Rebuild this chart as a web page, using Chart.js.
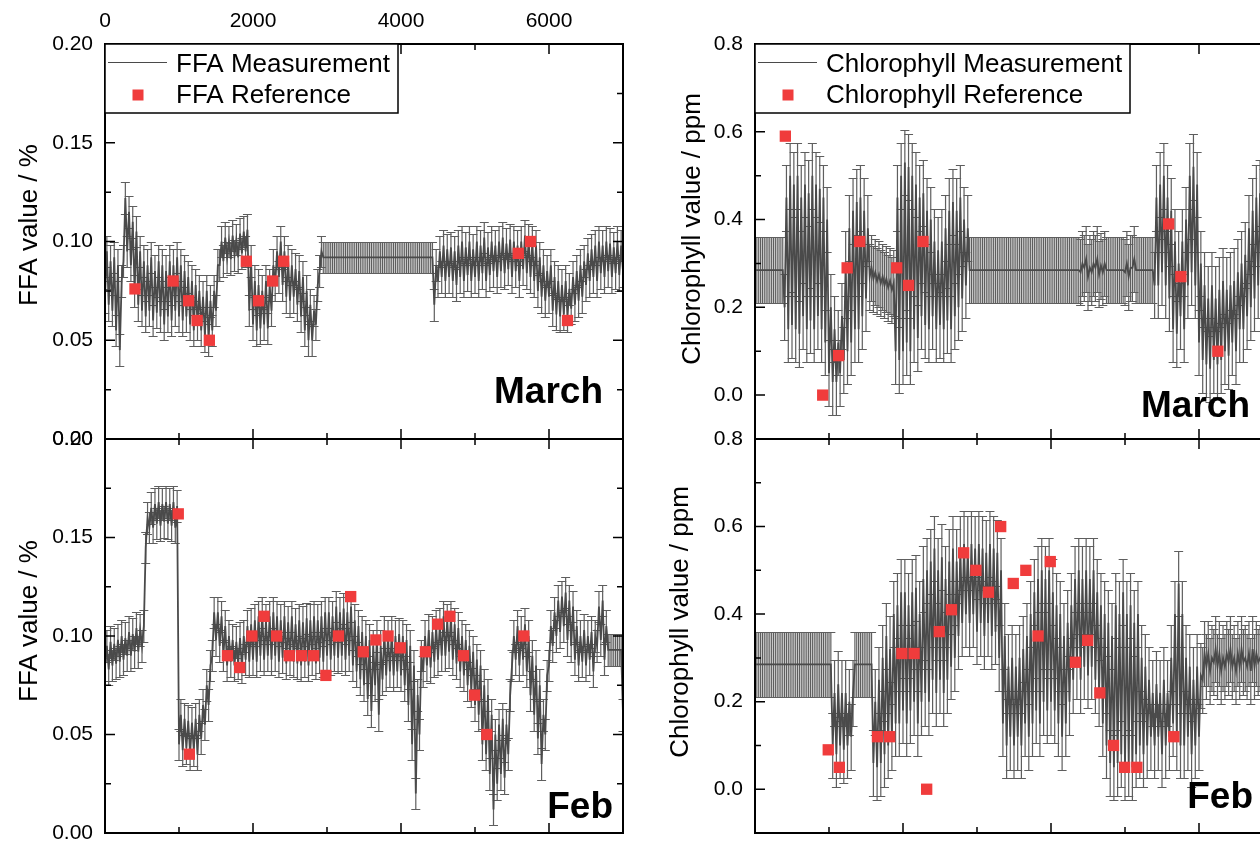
<!DOCTYPE html>
<html>
<head>
<meta charset="utf-8">
<script src="https://cdn.jsdelivr.net/npm/chart.js@4.4.0/dist/chart.umd.min.js"></script>
<style>
  html, body { margin: 0; padding: 0; background: #fff; overflow: hidden; width: 1260px; height: 841px; }
  body { position: relative; }
  canvas { position: absolute; top: 0; }
</style>
</head>
<body>
<canvas id="ffaMarch" width="640" height="841" style="left:0"></canvas>
<canvas id="ffaFeb" width="640" height="841" style="left:0"></canvas>
<canvas id="chlMarch" width="661" height="841" style="left:640px"></canvas>
<canvas id="chlFeb" width="661" height="841" style="left:640px"></canvas>
<script>
// ── data ─────────────────────────────────────────────────────────
// The measurement traces are very dense, so each one is kept as a low and
// high envelope per 50 s bin (read off the plot); the trace visits lo then hi.
const BIN = 50;

const ffaMarLo = [
  0.072, 0.068, 0.065, 0.055, 0.045, 0.090, 0.095, 0.088, 0.075, 0.068,
  0.065, 0.062, 0.065, 0.060, 0.064, 0.062, 0.058, 0.062, 0.060, 0.065,
  0.062, 0.060, 0.062, 0.058, 0.055, 0.058, 0.055, 0.052, 0.050, 0.055,
  0.065, 0.088, 0.090, 0.092, 0.091, 0.093, 0.092, 0.094, 0.095, 0.065,
  0.058, 0.055, 0.056, 0.058, 0.056, 0.065, 0.078, 0.082, 0.078, 0.072,
  0.070, 0.072, 0.068, 0.062, 0.055, 0.050, 0.050, 0.058, 0.085,
  0.092, 0.092, 0.092, 0.092, 0.092, 0.092, 0.092, 0.092, 0.092, 0.092,
  0.092, 0.092, 0.092, 0.092, 0.092, 0.092, 0.092, 0.092, 0.092, 0.092,
  0.092, 0.092, 0.092, 0.092, 0.092, 0.092, 0.092, 0.092, 0.092, 0.092,
  0.068, 0.080, 0.082, 0.080, 0.082, 0.080, 0.078, 0.082, 0.080, 0.083, 0.080,
  0.082, 0.080, 0.084, 0.080, 0.083, 0.085, 0.082, 0.085, 0.084, 0.086,
  0.082, 0.085, 0.080, 0.086, 0.084, 0.082, 0.080, 0.075, 0.072, 0.070,
  0.072, 0.065, 0.063, 0.062, 0.063, 0.062, 0.066, 0.068, 0.070, 0.072,
  0.078, 0.080, 0.082, 0.080, 0.084, 0.082, 0.085, 0.082, 0.084, 0.083, 0.085
];
const ffaMarHi = [
  0.095, 0.090, 0.092, 0.088, 0.080, 0.122, 0.115, 0.110, 0.105, 0.095,
  0.090, 0.088, 0.092, 0.085, 0.090, 0.088, 0.085, 0.090, 0.088, 0.092,
  0.088, 0.085, 0.082, 0.080, 0.078, 0.075, 0.072, 0.075, 0.070, 0.075,
  0.088, 0.100, 0.102, 0.100, 0.103, 0.101, 0.104, 0.105, 0.106, 0.090,
  0.080, 0.078, 0.075, 0.080, 0.078, 0.088, 0.095, 0.100, 0.095, 0.090,
  0.088, 0.086, 0.085, 0.082, 0.075, 0.068, 0.065, 0.078, 0.095,
  0.092, 0.092, 0.092, 0.092, 0.092, 0.092, 0.092, 0.092, 0.092, 0.092,
  0.092, 0.092, 0.092, 0.092, 0.092, 0.092, 0.092, 0.092, 0.092, 0.092,
  0.092, 0.092, 0.092, 0.092, 0.092, 0.092, 0.092, 0.092, 0.092, 0.092,
  0.088, 0.095, 0.098, 0.096, 0.097, 0.095, 0.098, 0.100, 0.097, 0.100, 0.096,
  0.100, 0.098, 0.102, 0.097, 0.100, 0.098, 0.100, 0.102, 0.099, 0.101,
  0.100, 0.098, 0.100, 0.103, 0.101, 0.100, 0.098, 0.092, 0.088, 0.085,
  0.088, 0.082, 0.080, 0.078, 0.080, 0.076, 0.082, 0.085, 0.088, 0.090,
  0.094, 0.096, 0.098, 0.100, 0.098, 0.100, 0.099, 0.097, 0.100, 0.098, 0.097
];

const ffaFebLo = [
  0.085, 0.083, 0.085, 0.086, 0.087, 0.088, 0.090, 0.090, 0.092, 0.092,
  0.095, 0.145, 0.155, 0.155, 0.157, 0.156, 0.158, 0.157, 0.156, 0.155,
  0.045, 0.042, 0.043, 0.040, 0.042, 0.040, 0.048, 0.055, 0.065, 0.090,
  0.098, 0.095, 0.090, 0.085, 0.087, 0.085, 0.086, 0.084, 0.088, 0.087,
  0.088, 0.087, 0.090, 0.088, 0.090, 0.088, 0.090, 0.087, 0.089, 0.086,
  0.088, 0.087, 0.086, 0.085, 0.087, 0.085, 0.088, 0.086, 0.089, 0.087,
  0.090, 0.088, 0.090, 0.089, 0.090, 0.088, 0.090, 0.085, 0.082, 0.078,
  0.075, 0.068, 0.062, 0.075, 0.060, 0.078, 0.080, 0.082, 0.080, 0.082,
  0.080, 0.075, 0.065, 0.045, 0.020, 0.050, 0.082, 0.085, 0.084, 0.087,
  0.088, 0.090, 0.090, 0.092, 0.088, 0.086, 0.082, 0.080, 0.075, 0.072,
  0.065, 0.060, 0.045, 0.040, 0.030, 0.012, 0.025, 0.030, 0.028, 0.040,
  0.085, 0.088, 0.085, 0.088, 0.082, 0.070, 0.060, 0.048, 0.035, 0.050,
  0.085, 0.095, 0.100, 0.102, 0.105, 0.098, 0.095, 0.088, 0.085, 0.087,
  0.085, 0.088, 0.082, 0.095, 0.098, 0.088, 0.093, 0.093, 0.093, 0.093, 0.060
];
const ffaFebHi = [
  0.095, 0.097, 0.096, 0.098, 0.100, 0.099, 0.102, 0.101, 0.104, 0.103,
  0.105, 0.160, 0.165, 0.167, 0.168, 0.167, 0.168, 0.167, 0.168, 0.166,
  0.060, 0.058, 0.057, 0.056, 0.058, 0.060, 0.065, 0.075, 0.085, 0.112,
  0.112, 0.110, 0.105, 0.100, 0.098, 0.097, 0.099, 0.100, 0.105, 0.106,
  0.108, 0.110, 0.112, 0.108, 0.110, 0.112, 0.110, 0.108, 0.110, 0.107,
  0.110, 0.106, 0.108, 0.107, 0.109, 0.108, 0.110, 0.108, 0.110, 0.112,
  0.112, 0.110, 0.115, 0.112, 0.114, 0.112, 0.115, 0.108, 0.105, 0.102,
  0.100, 0.098, 0.095, 0.100, 0.095, 0.102, 0.100, 0.102, 0.100, 0.101,
  0.100, 0.098, 0.095, 0.085, 0.070, 0.090, 0.100, 0.103, 0.102, 0.105,
  0.106, 0.110, 0.108, 0.110, 0.106, 0.104, 0.100, 0.098, 0.095, 0.092,
  0.088, 0.085, 0.075, 0.070, 0.060, 0.050, 0.055, 0.058, 0.055, 0.070,
  0.100, 0.105, 0.102, 0.106, 0.100, 0.090, 0.085, 0.075, 0.060, 0.080,
  0.105, 0.112, 0.118, 0.120, 0.122, 0.118, 0.115, 0.105, 0.100, 0.103,
  0.100, 0.102, 0.100, 0.115, 0.118, 0.105, 0.093, 0.093, 0.093, 0.093, 0.140
];

const chlMarLo = [
  0.285, 0.285, 0.285, 0.285, 0.285, 0.285, 0.285, 0.285,
  0.20, 0.15, 0.16, 0.15, 0.14, 0.18, 0.15, 0.17, 0.15, 0.18, 0.15, 0.12,
  0.05, 0.03, 0.03, 0.05, 0.08, 0.10, 0.12, 0.15, 0.15, 0.18,
  0.22, 0.27, 0.265, 0.26, 0.255, 0.25, 0.245, 0.24, 0.10, 0.08,
  0.10, 0.12, 0.10, 0.15, 0.13, 0.18, 0.16, 0.15, 0.18, 0.15,
  0.16, 0.15, 0.17, 0.15, 0.18, 0.20, 0.22, 0.25, 0.285,
  0.285, 0.285, 0.285, 0.285, 0.285, 0.285, 0.285, 0.285, 0.285, 0.285,
  0.285, 0.285, 0.285, 0.285, 0.285, 0.285, 0.285, 0.285, 0.285, 0.285,
  0.285, 0.285, 0.285, 0.285, 0.285, 0.285, 0.285, 0.285, 0.285,
  0.28, 0.29, 0.27, 0.28, 0.29, 0.275, 0.28, 0.285,
  0.285, 0.285, 0.285, 0.285,
  0.28, 0.27, 0.29, 0.285,
  0.285, 0.285, 0.285, 0.285,
  0.25, 0.25, 0.28, 0.25, 0.22, 0.15, 0.14, 0.18, 0.15, 0.25, 0.28, 0.25,
  0.12, 0.08, 0.07, 0.06, 0.08, 0.07, 0.08, 0.10, 0.09, 0.12,
  0.10, 0.15, 0.15, 0.18, 0.20, 0.22, 0.25, 0.22, 0.25, 0.22, 0.25
];
const chlMarHi = [
  0.285, 0.285, 0.285, 0.285, 0.285, 0.285, 0.285, 0.285,
  0.45, 0.50, 0.48, 0.50, 0.45, 0.48, 0.46, 0.50, 0.48, 0.47, 0.45, 0.40,
  0.20, 0.15, 0.12, 0.18, 0.30, 0.38, 0.42, 0.44, 0.45, 0.42,
  0.38, 0.29, 0.28, 0.275, 0.27, 0.265, 0.26, 0.255, 0.45, 0.50,
  0.53, 0.52, 0.50, 0.48, 0.45, 0.46, 0.42, 0.40, 0.35, 0.33,
  0.35, 0.38, 0.42, 0.44, 0.42, 0.45, 0.40, 0.38, 0.285,
  0.285, 0.285, 0.285, 0.285, 0.285, 0.285, 0.285, 0.285, 0.285, 0.285,
  0.285, 0.285, 0.285, 0.285, 0.285, 0.285, 0.285, 0.285, 0.285, 0.285,
  0.285, 0.285, 0.285, 0.285, 0.285, 0.285, 0.285, 0.285, 0.285,
  0.30, 0.31, 0.29, 0.30, 0.31, 0.295, 0.30, 0.285,
  0.285, 0.285, 0.285, 0.285,
  0.30, 0.29, 0.31, 0.285,
  0.285, 0.285, 0.285, 0.285,
  0.45, 0.48, 0.50, 0.45, 0.42, 0.35, 0.30, 0.35, 0.40, 0.50, 0.52, 0.48,
  0.30, 0.25, 0.22, 0.25, 0.22, 0.24, 0.26, 0.24, 0.25, 0.26,
  0.28, 0.30, 0.32, 0.38, 0.42, 0.45, 0.46, 0.44, 0.45, 0.40, 0.42
];

const chlFebLo = [
  0.285, 0.285, 0.285, 0.285, 0.285, 0.285, 0.285, 0.285, 0.285, 0.285,
  0.285, 0.285, 0.285, 0.285, 0.285, 0.285, 0.285, 0.285, 0.285, 0.285, 0.285,
  0.10, 0.08, 0.10, 0.09, 0.10, 0.12,
  0.285, 0.285, 0.285, 0.285, 0.285,
  0.06, 0.05, 0.06, 0.08, 0.10, 0.12, 0.15, 0.15,
  0.18, 0.15, 0.18, 0.20, 0.15, 0.20, 0.22, 0.20, 0.25, 0.22,
  0.25, 0.22, 0.25, 0.28, 0.30, 0.35, 0.38, 0.40, 0.38, 0.40,
  0.36, 0.38, 0.35, 0.38, 0.35, 0.36, 0.30, 0.15, 0.10, 0.12,
  0.10, 0.12, 0.10, 0.15, 0.12, 0.15, 0.18, 0.15, 0.20, 0.18,
  0.20, 0.18, 0.15, 0.12, 0.15, 0.20, 0.25, 0.28, 0.25, 0.28,
  0.26, 0.28, 0.25, 0.22, 0.15, 0.10, 0.06, 0.05, 0.06, 0.08,
  0.05, 0.06, 0.05, 0.08, 0.10, 0.08, 0.10, 0.12, 0.10, 0.12,
  0.08, 0.10, 0.12, 0.15, 0.12, 0.10, 0.10, 0.12, 0.08, 0.10,
  0.12, 0.25, 0.28, 0.27, 0.29, 0.28, 0.27, 0.28, 0.29, 0.28,
  0.27, 0.28, 0.29, 0.28, 0.27, 0.28, 0.29, 0.28, 0.27, 0.28, 0.28
];
const chlFebHi = [
  0.285, 0.285, 0.285, 0.285, 0.285, 0.285, 0.285, 0.285, 0.285, 0.285,
  0.285, 0.285, 0.285, 0.285, 0.285, 0.285, 0.285, 0.285, 0.285, 0.285, 0.285,
  0.22, 0.24, 0.22, 0.22, 0.20, 0.22,
  0.285, 0.285, 0.285, 0.285, 0.285,
  0.20, 0.25, 0.30, 0.35, 0.32, 0.40, 0.42, 0.45,
  0.45, 0.42, 0.45, 0.46, 0.40, 0.48, 0.50, 0.52, 0.55, 0.50,
  0.53, 0.48, 0.52, 0.55, 0.52, 0.55, 0.56, 0.55, 0.56, 0.55,
  0.56, 0.55, 0.54, 0.56, 0.55, 0.54, 0.50, 0.35, 0.28, 0.30,
  0.28, 0.30, 0.32, 0.35, 0.40, 0.45, 0.48, 0.50, 0.48, 0.50,
  0.45, 0.42, 0.40, 0.35, 0.38, 0.42, 0.48, 0.50, 0.48, 0.50,
  0.48, 0.50, 0.45, 0.42, 0.40, 0.38, 0.35, 0.42, 0.40, 0.45,
  0.40, 0.42, 0.38, 0.40, 0.30, 0.28, 0.25, 0.22, 0.24, 0.22,
  0.25, 0.22, 0.30, 0.40, 0.47, 0.40, 0.30, 0.28, 0.25, 0.28,
  0.26, 0.31, 0.31, 0.30, 0.32, 0.31, 0.30, 0.31, 0.32, 0.30,
  0.31, 0.32, 0.30, 0.31, 0.32, 0.31, 0.30, 0.31, 0.32, 0.30, 0.31
];

// error-bar half widths
const ffaErr = 0.008;
const chlErr = 0.075;

// reference (lab) samples
const ffaMarRefX = [405, 920, 1130, 1245, 1410, 1910, 2075, 2265, 2415, 5585, 5750, 6250];
const ffaMarRefY = [0.076, 0.080, 0.070, 0.060, 0.050, 0.090, 0.070, 0.080, 0.090, 0.094, 0.100, 0.060];
const chlMarRefX = [410, 915, 1130, 1245, 1415, 1915, 2075, 2270, 5590, 5755, 6255];
const chlMarRefY = [0.59, 0.00, 0.09, 0.29, 0.35, 0.29, 0.25, 0.35, 0.39, 0.27, 0.10];
const febRefX = [990, 1140, 1655, 1820, 1985, 2150, 2320, 2490, 2655, 2820, 2985, 3155,
                 3320, 3490, 3660, 3825, 3990, 4330, 4495, 4660, 4845, 4995, 5160, 5660];
const ffaFebRefY = [0.162, 0.040, 0.090, 0.084, 0.100, 0.110, 0.100, 0.090, 0.090, 0.090, 0.080, 0.100,
                    0.120, 0.092, 0.098, 0.100, 0.094, 0.092, 0.106, 0.110, 0.090, 0.070, 0.050, 0.100];
const chlFebRefY = [0.09, 0.05, 0.12, 0.12, 0.31, 0.31, 0.00, 0.36, 0.41, 0.54, 0.50, 0.45,
                    0.60, 0.47, 0.50, 0.35, 0.52, 0.29, 0.34, 0.22, 0.10, 0.05, 0.05, 0.12];

// axes
const xTicks = [0, 2000, 4000, 6000];
const xMinor = [1000, 3000, 5000, 7000];
const ffaTicks = [0, 0.05, 0.10, 0.15, 0.20];
const ffaMinor = [0.025, 0.075, 0.125, 0.175];
const chlTicks = [0, 0.2, 0.4, 0.6, 0.8];
const chlMinor = [0.1, 0.3, 0.5, 0.7];

// ── style ────────────────────────────────────────────────────────
const FONT = '"Liberation Sans", Arial, sans-serif';
const LINE = '#4a4a4a';
const ERRBAR = 'rgba(85,85,85,0.95)';
const RED = '#f03c3c';

// lo/hi envelopes -> one trace: lo at the bin start, hi half a bin later
function trace(lo, hi) {
  const pts = [];
  lo.forEach((v, i) => {
    pts.push({ x: i * BIN, y: v });
    if (i < lo.length - 1) pts.push({ x: i * BIN + BIN / 2, y: hi[i] });
  });
  return pts;
}

// ── decorations: error bars, boxed frame w/ inward ticks, legend, labels ──
const panelDeco = {
  id: 'panelDeco',
  beforeDatasetsDraw(chart, args, o) {
    const { ctx, chartArea: a, scales: { x, y } } = chart;
    const ds = chart.data.datasets[0];
    ctx.save();
    ctx.beginPath();
    ctx.rect(a.left, a.top, a.right - a.left, a.bottom - a.top);
    ctx.clip();
    ctx.strokeStyle = ERRBAR;
    ctx.lineWidth = 1.2;
    ctx.beginPath();
    ds.data.forEach(p => {
      const px = x.getPixelForValue(p.x);
      const lo = Math.round(y.getPixelForValue(p.y - o.err)) + 0.5;
      const hi = Math.round(y.getPixelForValue(p.y + o.err)) + 0.5;
      ctx.moveTo(px, lo); ctx.lineTo(px, hi);
      ctx.moveTo(px - 4.5, lo); ctx.lineTo(px + 4.5, lo);
      ctx.moveTo(px - 4.5, hi); ctx.lineTo(px + 4.5, hi);
    });
    ctx.stroke();
    ctx.restore();
  },
  afterDraw(chart, args, o) {
    const { ctx, chartArea: a, scales: { x, y } } = chart;
    ctx.save();

    // inward ticks on all four sides
    ctx.strokeStyle = '#000';
    ctx.lineWidth = 1.5;
    ctx.beginPath();
    const tickX = (v, len) => {
      const px = x.getPixelForValue(v);
      ctx.moveTo(px, a.top); ctx.lineTo(px, a.top + len);
      ctx.moveTo(px, a.bottom); ctx.lineTo(px, a.bottom - len);
    };
    const tickY = (v, len) => {
      const py = y.getPixelForValue(v);
      ctx.moveTo(a.left, py); ctx.lineTo(a.left + len, py);
      ctx.moveTo(a.right, py); ctx.lineTo(a.right - len, py);
    };
    xTicks.forEach(v => tickX(v, 10));
    xMinor.forEach(v => tickX(v, 6));
    o.yMajor.forEach(v => tickY(v, 10));
    o.yMinor.forEach(v => tickY(v, 6));
    ctx.stroke();

    // frame
    ctx.lineWidth = 2;
    ctx.strokeRect(a.left, a.top, a.right - a.left, a.bottom - a.top);

    // legend box
    if (o.legendW) {
      const L = a.left, T = a.top;
      const [meas, ref] = chart.data.datasets;
      ctx.fillStyle = '#fff';
      ctx.fillRect(L, T, o.legendW, 69);
      ctx.lineWidth = 1.5;
      ctx.strokeRect(L, T, o.legendW, 69);
      ctx.strokeStyle = meas.borderColor;
      ctx.lineWidth = 1;
      ctx.beginPath();
      ctx.moveTo(L + 3, T + 18.5); ctx.lineTo(L + 62, T + 18.5);
      ctx.stroke();
      ctx.fillStyle = ref.pointBackgroundColor;
      ctx.fillRect(L + 27.5, T + 45.5, 11, 11);
      ctx.fillStyle = '#000';
      ctx.font = '26px ' + FONT;
      ctx.textAlign = 'left';
      ctx.textBaseline = 'alphabetic';
      ctx.fillText(meas.label, L + 71, T + 28);
      ctx.fillText(ref.label, L + 71, T + 59);
    }

    // month tag
    ctx.fillStyle = '#000';
    ctx.font = 'bold 37px ' + FONT;
    ctx.textAlign = 'right';
    ctx.textBaseline = 'alphabetic';
    ctx.fillText(o.month, o.monthX, o.monthY);

    // y-axis title
    ctx.translate(o.titleX, o.titleY);
    ctx.rotate(-Math.PI / 2);
    ctx.font = '26px ' + FONT;
    ctx.textAlign = 'center';
    ctx.fillText(o.title, 0, 0);
    ctx.restore();
  }
};

// ── panel builder ────────────────────────────────────────────────
function buildPanel(id, p) {
  return new Chart(document.getElementById(id), {
    type: 'line',
    data: {
      datasets: [
        {
          label: p.measLabel,
          data: trace(p.lo, p.hi),
          borderColor: LINE, borderWidth: 1.8,
          pointRadius: 0, tension: 0, order: 1,
        },
        {
          label: p.refLabel,
          data: p.refX.map((v, i) => ({ x: v, y: p.refY[i] })),
          showLine: false,
          pointStyle: 'rect', pointRadius: 8,
          pointBackgroundColor: RED, pointBorderWidth: 0,
          pointBorderColor: RED, borderColor: RED,
          order: 0,
        },
      ],
    },
    options: {
      responsive: false,
      animation: false,
      events: [],
      layout: { padding: p.pad },
      scales: {
        x: {
          type: 'linear', min: 0, max: 7000,
          position: 'top',
          display: p.showTop,
          grid: { display: false, drawTicks: false },
          border: { display: false },
          afterBuildTicks: s => { s.ticks = xTicks.map(v => ({ value: v })); },
          afterFit: s => { s.height = p.showTop ? 44 : 0; s.paddingLeft = 0; s.paddingRight = 0; },
          ticks: {
            autoSkip: false, maxRotation: 0, padding: 10,
            color: '#000', font: { family: FONT, size: 21 },
            callback: v => String(v),
          },
        },
        y: {
          type: 'linear', min: p.yMin, max: p.yMax,
          grid: { display: false, drawTicks: false },
          border: { display: false },
          afterBuildTicks: s => { s.ticks = p.yMajor.map(v => ({ value: v })); },
          afterFit: s => { s.width = p.axisW; s.paddingTop = 0; s.paddingBottom = 0; },
          ticks: {
            autoSkip: false, padding: 12,
            color: '#000', font: { family: FONT, size: 21 },
            callback: v => v.toFixed(p.dec),
          },
        },
      },
      plugins: {
        legend: { display: false },
        tooltip: { enabled: false },
        panelDeco: {
          err: p.err, yMajor: p.yMajor, yMinor: p.yMinor,
          legendW: p.legendW, month: p.month, monthX: p.monthX, monthY: p.monthY,
          title: p.title, titleX: p.titleX, titleY: p.titleY,
        },
      },
    },
    plugins: [panelDeco],
  });
}

const ffaBase = {
  yMin: 0, yMax: 0.2, yMajor: ffaTicks, yMinor: ffaMinor, dec: 2, err: ffaErr,
  axisW: 105, measLabel: 'FFA Measurement', refLabel: 'FFA Reference',
  title: 'FFA value / %', titleX: 37,
};
const chlBase = {
  yMin: -0.1, yMax: 0.8, yMajor: chlTicks, yMinor: chlMinor, dec: 1, err: chlErr,
  axisW: 115, measLabel: 'Chlorophyll Measurement', refLabel: 'Chlorophyll Reference',
  title: 'Chlorophyll value / ppm',
};

buildPanel('ffaMarch', Object.assign({}, ffaBase, {
  lo: ffaMarLo, hi: ffaMarHi, refX: ffaMarRefX, refY: ffaMarRefY,
  pad: { left: 0, top: 0, right: 17, bottom: 402 }, showTop: true,
  legendW: 293, month: 'March', monthX: 603, monthY: 403, titleY: 225,
}));
buildPanel('ffaFeb', Object.assign({}, ffaBase, {
  lo: ffaFebLo, hi: ffaFebHi, refX: febRefX, refY: ffaFebRefY,
  pad: { left: 0, top: 439, right: 17, bottom: 7 }, showTop: false,
  legendW: 0, month: 'Feb', monthX: 613, monthY: 818, titleY: 621,
}));
buildPanel('chlMarch', Object.assign({}, chlBase, {
  lo: chlMarLo, hi: chlMarHi, refX: chlMarRefX, refY: chlMarRefY,
  pad: { left: 0, top: 44, right: 28, bottom: 402 }, showTop: false,
  legendW: 375, month: 'March', monthX: 610, monthY: 417, titleX: 60, titleY: 229,
}));
buildPanel('chlFeb', Object.assign({}, chlBase, {
  lo: chlFebLo, hi: chlFebHi, refX: febRefX, refY: chlFebRefY,
  pad: { left: 0, top: 439, right: 28, bottom: 7 }, showTop: false,
  legendW: 0, month: 'Feb', monthX: 613, monthY: 808, titleX: 48, titleY: 622,
}));
</script>
</body>
</html>
